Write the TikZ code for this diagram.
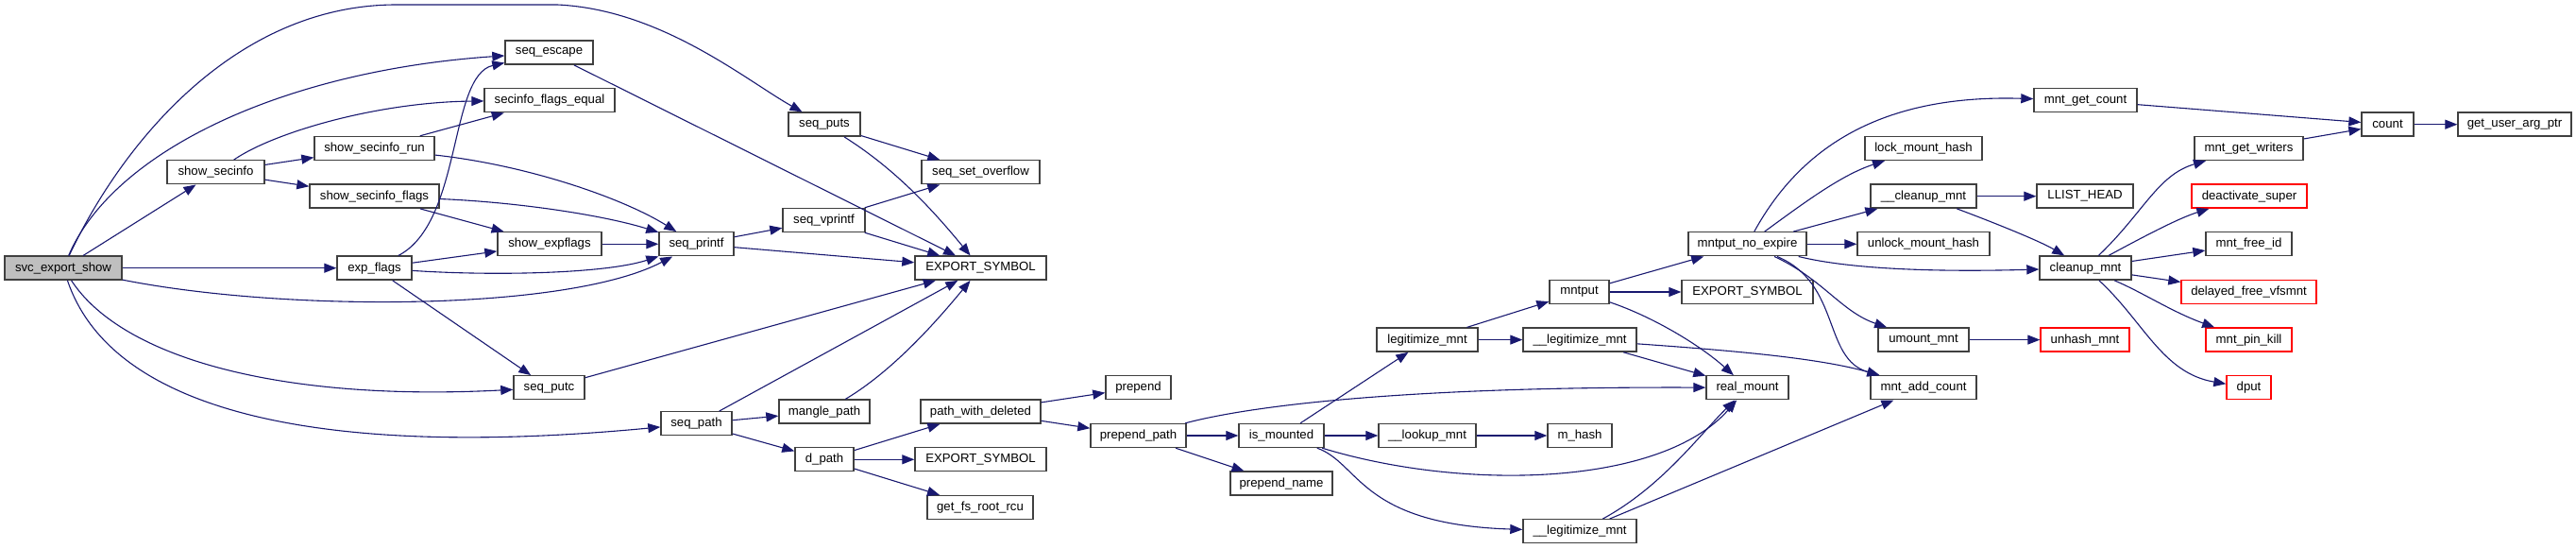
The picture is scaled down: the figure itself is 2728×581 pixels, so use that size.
\documentclass[tikz,border=0pt]{standalone}
\usepackage{fontspec}
\setmainfont{Liberation Sans}
\usetikzlibrary{arrows.meta}
\definecolor{edgecol}{HTML}{191970}
\definecolor{boxborder}{HTML}{404040}
\definecolor{nodegray}{HTML}{BFBFBF}
\begin{document}
\begin{tikzpicture}[x=0.5pt,y=-0.5pt,
  box/.style={draw=boxborder, line width=0.7pt, fill=white, inner sep=0pt, minimum height=12.5pt, font=\fontsize{6.6}{7}\selectfont},
  redbox/.style={box, draw=red},
  e/.style={draw=edgecol, line width=0.55pt, -{Triangle[length=6.5pt,width=5pt]}}]
\useasboundingbox (0,0) rectangle (2728,581);
% nodes
\node[box, minimum width=62pt, fill=nodegray] (svc) at (67,283.7) {svc\_export\_show};
\node[box, minimum width=51.5pt] (ssi) at (228.5,182.3) {show\_secinfo};
\node[box, minimum width=63.5pt] (ssr) at (396.5,157.0) {show\_secinfo\_run};
\node[box, minimum width=68.5pt] (ssf) at (396.5,207.7) {show\_secinfo\_flags};
\node[box, minimum width=39.5pt] (ef) at (396.5,283.7) {exp\_flags};
\node[box, minimum width=46.5pt] (sesc) at (581.5,55.7) {seq\_escape};
\node[box, minimum width=69pt] (sfe) at (582,106.3) {secinfo\_flags\_equal};
\node[box, minimum width=38pt] (sputs) at (873,131.7) {seq\_puts};
\node[box, minimum width=55pt] (sexp) at (582,258.3) {show\_expflags};
\node[box, minimum width=39.5pt] (sprintf) at (737.5,258.3) {seq\_printf};
\node[box, minimum width=43.5pt] (svprintf) at (872.5,233.0) {seq\_vprintf};
\node[box, minimum width=37.5pt] (sputc) at (581.5,410.3) {seq\_putc};
\node[box, minimum width=37.5pt] (spath) at (737.5,448.3) {seq\_path};
\node[box, minimum width=48pt] (mangle) at (873,435.6) {mangle\_path};
\node[box, minimum width=31pt] (dpath) at (873,486.3) {d\_path};
\node[box, minimum width=62.5pt] (sso) at (1038.5,182.3) {seq\_set\_overflow};
\node[box, minimum width=69.5pt] (es1) at (1038.5,283.7) {EXPORT\_SYMBOL};
\node[box, minimum width=63.5pt] (pwd) at (1038.5,435.6) {path\_with\_deleted};
\node[box, minimum width=34.5pt] (prep) at (1205.5,410.3) {prepend};
\node[box, minimum width=50.5pt] (ppath) at (1205.5,461.0) {prepend\_path};
\node[box, minimum width=69.5pt] (es2) at (1038.5,486.3) {EXPORT\_SYMBOL};
\node[box, minimum width=56pt] (gfrr) at (1038,537.0) {get\_fs\_root\_rcu};
\node[box, minimum width=45pt] (ism) at (1357,461.0) {is\_mounted};
\node[box, minimum width=54pt] (pname) at (1357,511.6) {prepend\_name};
\node[box, minimum width=53.5pt] (lmnt) at (1511.5,359.6) {legitimize\_mnt};
\node[box, minimum width=60pt] (llt) at (1673,359.6) {\_\_legitimize\_mnt};
\node[box, minimum width=51.5pt] (lookup) at (1511.5,461.0) {\_\_lookup\_mnt};
\node[box, minimum width=34pt] (mhash) at (1673,461.0) {m\_hash};
\node[box, minimum width=60pt] (llb) at (1673,562.3) {\_\_legitimize\_mnt};
\node[box, minimum width=31.5pt] (mntput) at (1672.5,309.0) {mntput};
\node[box, minimum width=62.5pt] (mne) at (1850.5,258.3) {mntput\_no\_expire};
\node[box, minimum width=69.5pt] (es3) at (1850.5,309.0) {EXPORT\_SYMBOL};
\node[box, minimum width=43.5pt] (rm) at (1850.5,410.3) {real\_mount};
\node[box, minimum width=54.5pt] (mgc) at (2208.5,106.3) {mnt\_get\_count};
\node[box, minimum width=62pt] (lmh) at (2037,157.0) {lock\_mount\_hash};
\node[box, minimum width=56pt] (xcm) at (2037,207.7) {\_\_cleanup\_mnt};
\node[box, minimum width=51pt] (llh) at (2208,207.7) {LLIST\_HEAD};
\node[box, minimum width=70pt] (umh) at (2037,258.3) {unlock\_mount\_hash};
\node[box, minimum width=48.5pt] (cm) at (2208.5,283.7) {cleanup\_mnt};
\node[box, minimum width=48pt] (um) at (2037,359.6) {umount\_mnt};
\node[redbox, minimum width=47pt] (uhm) at (2208,359.6) {unhash\_mnt};
\node[box, minimum width=56pt] (mac) at (2037,410.3) {mnt\_add\_count};
\node[box, minimum width=27.5pt] (cnt) at (2528.5,131.7) {count};
\node[box, minimum width=60pt] (guap) at (2663,131.7) {get\_user\_arg\_ptr};
\node[box, minimum width=57.5pt] (mgw) at (2381.5,157.0) {mnt\_get\_writers};
\node[redbox, minimum width=61pt] (ds) at (2382,207.7) {deactivate\_super};
\node[box, minimum width=45.5pt] (mfi) at (2381.5,258.3) {mnt\_free\_id};
\node[redbox, minimum width=71.5pt] (dfv) at (2381.5,309.0) {delayed\_free\_vfsmnt};
\node[redbox, minimum width=45.5pt] (mpk) at (2381.5,359.6) {mnt\_pin\_kill};
\node[redbox, minimum width=23.5pt] (dput) at (2381.5,410.3) {dput};
% edges from svc_export_show
\draw[e] (svc) .. controls (130,150) and (250,5) .. (420,5) -- (590,5) .. controls (700,10) and (790,85) .. (sputs);
\draw[e] (svc) .. controls (120,160) and (300,75) .. (sesc);
\draw[e] (svc) -- (ssi);
\draw[e] (svc) -- (ef);
\draw[e] (svc) .. controls (300,330) and (600,330) .. (sprintf);
\draw[e] (svc) .. controls (130,380) and (300,425) .. (sputc);
\draw[e] (svc) .. controls (120,440) and (350,485) .. (spath);
% show_secinfo
\draw[e] (ssi) .. controls (290,140) and (400,108) .. (sfe);
\draw[e] (ssi) -- (ssr);
\draw[e] (ssi) -- (ssf);
\draw[e] (ssr) -- (sfe);
\draw[e] (ssr) .. controls (560,175) and (660,210) .. (sprintf);
\draw[e] (ssf) .. controls (550,214) and (640,228) .. (sprintf);
\draw[e] (ssf) -- (sexp);
% exp_flags
\draw[e] (ef) .. controls (490,235) and (475,80) .. (sesc);
\draw[e] (ef) -- (sexp);
\draw[e] (ef) .. controls (520,292) and (640,290) .. (sprintf);
\draw[e] (ef) -- (sputc);
\draw[e] (sexp) -- (sprintf);
% seq_printf family
\draw[e] (sprintf) -- (svprintf);
\draw[e] (sprintf) -- (es1);
\draw[e] (svprintf) -- (sso);
\draw[e] (svprintf) -- (es1);
\draw[e] (sputs) -- (sso);
\draw[e] (sputs) .. controls (950,180) and (990,225) .. (es1);
\draw[e] (sesc) -- (es1);
\draw[e] (sputc) -- (es1);
\draw[e] (spath) -- (es1);
\draw[e] (mangle) .. controls (950,390) and (1000,330) .. (es1);
\draw[e] (spath) -- (mangle);
\draw[e] (spath) -- (dpath);
% d_path
\draw[e] (dpath) -- (pwd);
\draw[e] (dpath) -- (es2);
\draw[e] (dpath) -- (gfrr);
\draw[e] (pwd) -- (prep);
\draw[e] (pwd) -- (ppath);
\draw[e] (ppath) -- (ism);
\draw[e] (ppath) -- (pname);
\draw[e] (ppath) .. controls (1330,428) and (1500,409) .. (rm);
% is_mounted
\draw[e] (ism) -- (lmnt);
\draw[e] (ism) -- (lookup);
\draw[e] (ism) .. controls (1550,520) and (1760,515) .. (rm);
\draw[e] (ism) .. controls (1440,490) and (1440,555) .. (llb);
\draw[e] (lookup) -- (mhash);
% legitimize
\draw[e] (lmnt) -- (mntput);
\draw[e] (lmnt) -- (llt);
\draw[e] (llt) -- (rm);
\draw[e] (llt) .. controls (1850,372) and (1930,380) .. (mac);
\draw[e] (llb) .. controls (1760,515) and (1800,460) .. (rm);
\draw[e] (llb) -- (mac);
% mntput
\draw[e] (mntput) -- (mne);
\draw[e] (mntput) -- (es3);
\draw[e] (mntput) .. controls (1750,335) and (1800,365) .. (rm);
% mntput_no_expire
\draw[e] (mne) .. controls (1910,150) and (2000,100) .. (mgc);
\draw[e] (mne) .. controls (1910,215) and (1950,185) .. (lmh);
\draw[e] (mne) -- (xcm);
\draw[e] (mne) -- (umh);
\draw[e] (mne) .. controls (1960,285) and (2050,288) .. (cm);
\draw[e] (mne) .. controls (1930,295) and (1950,330) .. (um);
\draw[e] (mne) .. controls (1950,300) and (1930,380) .. (mac);
\draw[e] (xcm) -- (llh);
\draw[e] (xcm) .. controls (2110,235) and (2160,255) .. (cm);
\draw[e] (um) -- (uhm);
% cleanup_mnt
\draw[e] (cm) .. controls (2270,225) and (2285,185) .. (mgw);
\draw[e] (cm) .. controls (2280,245) and (2310,230) .. (ds);
\draw[e] (cm) -- (mfi);
\draw[e] (cm) -- (dfv);
\draw[e] (cm) .. controls (2270,310) and (2300,330) .. (mpk);
\draw[e] (cm) .. controls (2270,340) and (2290,395) .. (dput);
% count
\draw[e] (mgc) -- (cnt);
\draw[e] (mgw) -- (cnt);
\draw[e] (cnt) -- (guap);
\end{tikzpicture}
\end{document}
